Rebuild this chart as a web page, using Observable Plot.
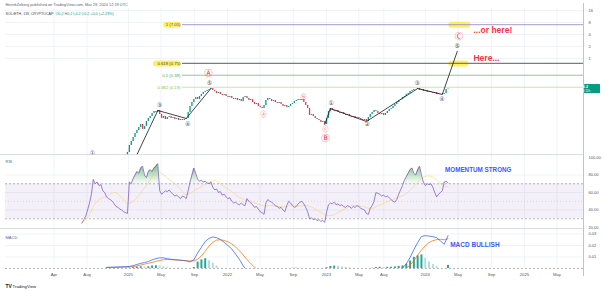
<!DOCTYPE html>
<html><head><meta charset="utf-8">
<script src="https://cdn.jsdelivr.net/npm/d3@7"></script>
<script src="https://cdn.jsdelivr.net/npm/@observablehq/plot@0.6"></script>
<style>
html,body{margin:0;padding:0;background:#fff;}
#chart{width:605px;height:291px;position:relative;overflow:hidden;background:#fff;}
#chart svg{display:block;}
</style></head><body><div id="chart"></div>
<script>
// ---------------- DATA ----------------
const candleStart = "2020-12-28";   // weekly candles
const firstOpen = 0.0028;
const closes = [
0.0044,0.0066,0.0083,0.0104,0.0131,0.0156,0.0186,0.0221,0.0166,0.0197,
0.0263,0.0313,0.0351,0.0417,0.0468,0.0442,0.0496,0.0394,0.0313,0.0351,
0.0295,0.0331,0.0351,0.0313,0.0331,0.0295,0.0313,0.0278,0.0295,0.0278,
0.0295,0.0313,0.0442,0.0625,0.0787,0.0937,0.1051,0.0937,0.1114,0.1250,
0.1403,0.1487,0.1575,0.1669,0.1768,0.1575,0.1487,0.1324,0.1403,0.1250,
0.1180,0.1250,0.1114,0.1051,0.1114,0.0992,0.0937,0.0992,0.0884,0.0937,
0.0834,0.1051,0.1114,0.0992,0.0884,0.0937,0.0787,0.0701,0.0743,0.0625,
0.0590,0.0557,0.0662,0.0884,0.0992,0.0937,0.0834,0.0884,0.0787,0.0743,
0.0787,0.0701,0.0625,0.0662,0.0590,0.0625,0.0701,0.0743,0.0834,0.0884,
0.0937,0.0884,0.0937,0.0787,0.0662,0.0557,0.0372,0.0394,0.0351,0.0313,
0.0295,0.0278,0.0248,0.0263,0.0221,0.0313,0.0468,0.0557,0.0496,0.0468,
0.0496,0.0442,0.0417,0.0442,0.0394,0.0372,0.0394,0.0351,0.0331,0.0351,
0.0313,0.0331,0.0313,0.0295,0.0278,0.0295,0.0263,0.0331,0.0394,0.0442,
0.0496,0.0468,0.0417,0.0394,0.0417,0.0372,0.0417,0.0468,0.0526,0.0557,
0.0625,0.0701,0.0787,0.0884,0.0937,0.1051,0.1114,0.1250,0.1324,0.1487,
0.1575,0.1669,0.1669,0.1768,0.1575,0.1669,0.1487,0.1575,0.1403,0.1487,
0.1403,0.1324,0.1403,0.1250,0.1324,0.1324,0.1250,0.1324,0.1669,0.1707];

const rsiStart = "2020-07-13";      // weekly RSI
const rsiValues = [
25,29,33,40,48,58,75,70,72,68, 69,62,60,55,53,52,50,47,44,43,
41,40,38,37,36,72,70,76,80,84, 82,88,90,80,77,84,86,84,88,90,
93,62,58,60,62,61,63,60,58,56, 57,55,53,56,55,53,62,72,80,88,
82,75,73,74,72,73,71,70,72,66, 63,64,60,61,57,58,55,53,54,50,
48,49,47,46,48,46,45,53,50,48, 46,43,44,41,38,37,35,48,52,50,
49,47,45,44,42,43,40,38,45,50, 48,45,43,44,47,49,50,47,43,38,
30,31,29,30,28,29,27,28,26,38, 46,48,47,49,46,47,45,46,44,43,
45,44,42,44,43,45,44,42,41,40, 36,35,42,45,50,60,59,58,56,57,
55,56,54,52,50,49,52,58,63,68, 74,78,82,86,88,82,80,86,90,80,
72,68,70,69,70,66,60,55,58,60, 62,72,73,71];

const macdStart = "2020-10-12";     // bi-weekly MACD
const macdValues = [
0.0010,0.0011,0.0012,0.0013,0.0015,0.0016,0.0018,0.0025,0.0035,0.0045,
0.0052,0.0060,0.0075,0.0086,0.0093,0.0092,0.0085,0.0080,0.0077,0.0074,
0.0071,0.0066,0.0058,0.0075,0.0135,0.0185,0.0235,0.0262,0.0274,0.0268,
0.0252,0.0228,0.0200,0.0170,0.0125,0.0080,0.0025,-0.0020,-0.0050,-0.0070,
-0.0085,-0.0095,-0.0100,-0.0098,-0.0090,-0.0088,-0.0092,-0.0095,-0.0093,-0.0090,
-0.0088,-0.0087,-0.0090,-0.0100,-0.0112,-0.0120,-0.0122,-0.0118,-0.0108,-0.0092,
-0.0080,-0.0074,-0.0070,-0.0068,-0.0067,-0.0068,-0.0070,-0.0072,-0.0074,-0.0078,
-0.0070,-0.0060,-0.0052,-0.0048,-0.0042,-0.0035,-0.0025,-0.0012,0.0005,0.0040,
0.0095,0.0165,0.0225,0.0278,0.0286,0.0282,0.0277,0.0268,0.0240,0.0210,0.0285];
const signalValues = [
0.0008,0.0009,0.0010,0.0011,0.0012,0.0013,0.0014,0.0017,0.0022,0.0030,
0.0038,0.0045,0.0053,0.0062,0.0070,0.0076,0.0078,0.0077,0.0075,0.0072,
0.0070,0.0068,0.0065,0.0066,0.0080,0.0110,0.0150,0.0195,0.0228,0.0247,
0.0250,0.0244,0.0232,0.0213,0.0188,0.0155,0.0118,0.0078,0.0042,0.0012,
-0.0015,-0.0040,-0.0060,-0.0075,-0.0083,-0.0087,-0.0089,-0.0091,-0.0092,-0.0092,
-0.0091,-0.0089,-0.0089,-0.0092,-0.0098,-0.0105,-0.0111,-0.0115,-0.0115,-0.0110,
-0.0101,-0.0092,-0.0084,-0.0077,-0.0072,-0.0070,-0.0069,-0.0070,-0.0071,-0.0073,
-0.0073,-0.0069,-0.0063,-0.0058,-0.0052,-0.0046,-0.0039,-0.0030,-0.0018,0.0002,
0.0030,0.0068,0.0115,0.0160,0.0198,0.0225,0.0242,0.0251,0.0254,0.0250,0.0258];

const fibLevels = [1, 0.618, 0.5, 0.382];
const fibPrices = [7.05, 0.75, 0.38, 0.19];
const fibLabelDate = "2021-07-12";
const fibStartDate = "2021-07-19";

const timeTickDates = ["2020-04-01","2020-08-01","2021-01-01","2021-05-01","2021-09-01","2022-01-01","2022-05-01","2022-09-01","2023-01-01","2023-05-01","2023-08-01","2024-01-01","2024-05-01","2024-09-01","2025-01-01","2025-05-01"];
const timeTickLabels = ["Apr","Aug","2021","May","Sep","2022","May","Sep","2023","May","Aug","2024","May","Sep","2025","May"];
const priceTicks = [16, 8, 4, 2, 1];
const rsiTicks = [100, 80, 60, 40, 20];
const macdTicks = [0.03, 0.02, 0.01];

const wave1Dates = ["2021-01-19","2021-04-19","2021-08-02","2021-11-01"];
const wave1Values = [0.0025, 0.0496, 0.0313, 0.1768];
const wave2Dates = ["2022-12-26","2023-01-16","2023-05-29","2023-12-04","2024-03-04","2024-04-28"];
const wave2Values = [0.0221, 0.0557, 0.0263, 0.1768, 0.1250, 1.5];

const labelDates = ["2020-08-21","2021-04-25","2021-08-07","2021-10-27","2021-10-23","2022-05-14","2022-10-09","2022-12-29","2022-12-29","2023-01-19","2023-06-01","2023-12-02","2024-03-03","2024-04-28","2024-05-05"];
const labelValues = [0.00412,0.0662,0.0221,0.236,0.42,0.0394,0.1051,0.0166,0.0098,0.0743,0.0221,0.236,0.0937,2.0,3.56];
const labelTexts = ["①","③","④","⑤","Ⓐ","ⓐ","ⓑ","ⓒ","Ⓑ","①","②","③","④","⑤","Ⓒ"];

const noteTexts = ["Here...", "...or here!"];
const noteDates = ["2024-06-27","2024-06-27"];
const noteValues = [1.0, 5.04];
const highlightValues = [7.05, 0.75, 7.05, 0.75];
const highlightStarts = ["2021-05-22","2021-04-14","2024-04-08","2024-04-08"];
const highlightEnds = ["2021-07-03","2021-07-03","2024-06-06","2024-05-30"];

// ---------------- BUILD ----------------
const D = s => new Date(s + "T00:00:00Z");
const addDays = (s, n) => new Date(D(s).getTime() + n * 864e5);
const xDomain = [D("2019-10-05"), D("2025-08-07")];
const X = {type: "utc", domain: xDomain, axis: null};
const FONT = "'Liberation Sans', Arial, sans-serif";
const SYM = "'DejaVu Sans', 'Noto Sans CJK SC', sans-serif";
const UP = "#089981", DOWN = "#f23645", RED = "#f23645", DARK = "#434651";
const GRID = "#eef0f4", AXIS_TXT = "#50535e";
const ticksX = timeTickDates.map(D);

const candles = closes.map((c, i) => ({date: addDays(candleStart, 7 * i), open: i ? closes[i - 1] : firstOpen, close: c}));
const rsi = rsiValues.map((v, j) => ({date: addDays(rsiStart, 7 * j), v}));
const macd = macdValues.map((v, n) => ({date: addDays(macdStart, 14 * n), macd: v, signal: signalValues[n], hist: v - signalValues[n]}));
macd.forEach((d, n) => {
  const prev = n ? macd[n - 1].hist : 0;
  d.col = d.hist >= 0 ? (d.hist >= prev ? "#26a69a" : "#b2dfdb") : (d.hist <= prev ? "#ff5252" : "#ffcdd2");
});
const wave1 = wave1Dates.map((d, i) => ({date: D(d), v: wave1Values[i]}));
const wave2 = wave2Dates.map((d, i) => ({date: D(d), v: wave2Values[i]}));
const labels = labelDates.map((d, i) => {
  const t = labelTexts[i], c = t.codePointAt(0);
  return {date: D(d), v: labelValues[i], t, kind: c < 0x24B6 ? "num" : (c < 0x24D0 ? "big" : "small")};
});
const fibs = fibPrices.map((p, i) => ({p, lvl: fibLevels[i], label: `${fibLevels[i]} (${p})`}));
const fibStroke = ["#9f8ccc", "#787b86", "#81c784", "#c8df9e"];
const fibWidth = [0.9, 1.3, 0.9, 0.9];
const fibText = ["#5e4a8f", "#434651", "#4caf50", "#8bc34a"];
const highlights = highlightValues.map((v, i) => ({v, x1: D(highlightStarts[i]), x2: D(highlightEnds[i])}));
const notes = noteTexts.map((t, i) => ({t, date: D(noteDates[i]), v: noteValues[i]}));
const timeTicks = ticksX.map((d, i) => ({d, t: timeTickLabels[i]}));

function chrome({top = 0, bottom = null, sep = false}) {
  return (index, scales, values, dims) => {
    const g = d3.create("svg:g");
    const xr = dims.width - dims.marginRight + 0.5;
    g.append("line").attr("x1", xr).attr("x2", xr).attr("y1", top).attr("y2", bottom ?? dims.height)
      .attr("stroke", "#b2b5be").attr("stroke-width", 0.8);
    if (sep) g.append("line").attr("x1", 0).attr("x2", xr).attr("y1", dims.height - 0.5).attr("y2", dims.height - 0.5)
      .attr("stroke", "#d1d4dc").attr("stroke-width", 0.8);
    return g.node();
  };
}

const chart = document.getElementById("chart");

// ---------- PRICE PANE ----------
const last = closes[closes.length - 1];
const pricePlot = Plot.plot({
  width: 605, height: 155, marginTop: 8, marginBottom: 0, marginLeft: 5, marginRight: 22,
  style: {background: "transparent", fontFamily: FONT, overflow: "visible"},
  x: X,
  y: {type: "log", domain: [0.00368, 17.96], range: [155, 8], axis: null},
  color: {type: "identity"},
  marks: [
    Plot.ruleX(ticksX, {stroke: GRID, strokeWidth: 0.8}),
    Plot.ruleY(priceTicks, {stroke: GRID, strokeWidth: 0.8}),
    Plot.ruleY(highlights, {y: "v", x1: "x1", x2: "x2", stroke: "#ffeb3b", strokeWidth: 6, strokeLinecap: "round", strokeOpacity: 0.8}),
    ...fibs.map((f, i) => Plot.ruleY([f], {y: "p", x1: () => D(fibStartDate), x2: () => xDomain[1], stroke: fibStroke[i], strokeWidth: fibWidth[i]})),
    ...fibs.map((f, i) => Plot.text([f], {y: "p", x: () => D(fibLabelDate), text: "label", textAnchor: "end", fontSize: 4.3, fill: fibText[i]})),
    Plot.ruleX(candles, {x: "date", y1: "open", y2: "close", stroke: d => d.close >= d.open ? UP : DOWN, strokeWidth: 1.3, clip: true}),
    Plot.line(wave1, {x: "date", y: "v", stroke: "#131722", strokeWidth: 0.8, clip: true}),
    Plot.line(wave2, {x: "date", y: "v", stroke: "#131722", strokeWidth: 0.8, clip: true}),
    Plot.text(labels, {filter: d => d.kind === "num", x: "date", y: "v", text: "t", fill: DARK, fontSize: 6, fontFamily: SYM}),
    Plot.text(labels, {filter: d => d.kind === "small", x: "date", y: "v", text: "t", fill: RED, fontSize: 6, fontFamily: SYM}),
    Plot.text(labels, {filter: d => d.kind === "big", x: "date", y: "v", text: "t", fill: RED, fontSize: 8.5, fontFamily: SYM}),
    Plot.text(notes, {x: "date", y: "v", text: "t", textAnchor: "start", fill: RED, fontSize: 8.5, fontWeight: "bold"}),
    Plot.text(priceTicks, {y: d => d, frameAnchor: "right", dx: 5, textAnchor: "start", text: d => String(d), fontSize: 4, fill: AXIS_TXT}),
    Plot.text(["HenrikZeberg published on TradingView.com, Mar 29, 2024 12:19 UTC"], {frameAnchor: "top-left", dy: -4, lineAnchor: "middle", textAnchor: "start", fontSize: 3.9, fill: "#5d606b"}),
    Plot.text(["SOL/ETH, 1W, CRYPTOCAP"], {frameAnchor: "top-left", dy: 5, lineAnchor: "middle", textAnchor: "start", fontSize: 3.7, fill: "#434651"}),
    Plot.text(["O0.2 H0.2 L0.2 C0.2 +0.0 (+2.29%)"], {frameAnchor: "top-left", dx: 50, dy: 5, lineAnchor: "middle", textAnchor: "start", fontSize: 3.7, fill: UP}),
    chrome({top: 3, sep: true}),
    (index, scales, values, dims) => {
      const y = scales.y(last);
      const x0 = dims.width - dims.marginRight + 1;
      const g = d3.create("svg:g");
      g.append("rect").attr("x", x0).attr("y", y - 4.5).attr("width", 16).attr("height", 9).attr("fill", UP).attr("rx", 0.6);
      g.append("text").attr("x", x0 + 1.5).attr("y", y - 0.8).attr("fill", "#fff").attr("font-size", 3.8).attr("font-weight", "bold").attr("font-family", FONT).text(d3.format(".1f")(last));
      g.append("text").attr("x", x0 + 1.5).attr("y", y + 3.3).attr("fill", "#fff").attr("font-size", 3.2).attr("font-family", FONT).text("3d 11h");
      return g.node();
    }
  ]
});

// ---------- RSI PANE ----------
const rsiPlot = Plot.plot({
  width: 605, height: 74, marginTop: 0, marginBottom: 0, marginLeft: 5, marginRight: 22,
  style: {background: "transparent", fontFamily: FONT, overflow: "visible"},
  x: X,
  y: {domain: [20, 100], range: [72, 2], axis: null},
  marks: [
    Plot.ruleX(ticksX, {stroke: GRID, strokeWidth: 0.8}),
    Plot.ruleY([80, 60, 40], {stroke: GRID, strokeWidth: 0.8}),
    Plot.rect([0], {x1: () => xDomain[0], x2: () => xDomain[1], y1: 30, y2: 70, fill: "#7e57c2", fillOpacity: 0.09}),
    Plot.ruleY([70, 30], {stroke: "#9598a1", strokeWidth: 0.7, strokeDasharray: "2,2"}),
    Plot.ruleY([50], {stroke: "#b2b5be", strokeWidth: 0.6, strokeDasharray: "1,2", strokeOpacity: 0.7}),
    (index, scales) => {
      const defs = d3.create("svg:defs");
      const gr = defs.append("linearGradient").attr("id", "rsiGrad").attr("gradientUnits", "userSpaceOnUse")
        .attr("x1", 0).attr("x2", 0).attr("y1", scales.y(95)).attr("y2", scales.y(70));
      gr.append("stop").attr("offset", 0).attr("stop-color", "#43a047").attr("stop-opacity", 0.85);
      gr.append("stop").attr("offset", 1).attr("stop-color", "#66bb6a").attr("stop-opacity", 0.05);
      return defs.node();
    },
    Plot.areaY(rsi, {x: "date", y1: 70, y2: d => Math.max(70, d.v), fill: "url(#rsiGrad)"}),
    Plot.lineY(rsi, Plot.windowY({k: 14, anchor: "end"}, {x: "date", y: "v", stroke: "#f3d36b", strokeWidth: 0.8, strokeOpacity: 0.75})),
    Plot.lineY(rsi, {x: "date", y: "v", stroke: "#7e57c2", strokeWidth: 0.75}),
    Plot.text(rsiTicks, {y: d => d, frameAnchor: "right", dx: 5, textAnchor: "start", text: d => d3.format(".2f")(d), fontSize: 4, fill: AXIS_TXT}),
    Plot.text(["RSI"], {frameAnchor: "top-left", dy: 6, lineAnchor: "middle", textAnchor: "start", fontSize: 4, fill: "#5d606b"}),
    Plot.text(["MOMENTUM STRONG"], {x: () => D("2024-03-14"), y: () => 86.3, textAnchor: "start", fontSize: 6.3, fontWeight: "bold", fill: "#3d5afe"}),
    chrome({sep: true})
  ]
});

// ---------- MACD PANE ----------
const macdPlot = Plot.plot({
  width: 605, height: 62, marginTop: 0, marginBottom: 23, marginLeft: 5, marginRight: 22,
  style: {background: "transparent", fontFamily: FONT, overflow: "visible"},
  x: X,
  y: {domain: [0, 0.03], range: [39, 4.5], axis: null},
  color: {type: "identity"},
  marks: [
    Plot.ruleX(ticksX, {stroke: GRID, strokeWidth: 0.8}),
    Plot.ruleY(macdTicks, {stroke: GRID, strokeWidth: 0.8}),
    Plot.ruleY([0], {stroke: "#9598a1", strokeWidth: 0.7, strokeDasharray: "2,2"}),
    Plot.ruleX(macd, {x: "date", y1: 0, y2: "hist", stroke: "col", strokeWidth: 2, clip: true}),
    Plot.line(macd, {x: "date", y: "signal", stroke: "#ff6d00", strokeWidth: 0.75, clip: true}),
    Plot.line(macd, {x: "date", y: "macd", stroke: "#2962ff", strokeWidth: 0.75, clip: true}),
    Plot.text(macdTicks, {y: d => d, frameAnchor: "right", dx: 5, textAnchor: "start", text: d => d3.format(".2f")(d), fontSize: 4, fill: AXIS_TXT}),
    Plot.text(["MACD"], {frameAnchor: "top-left", dy: 8, lineAnchor: "middle", textAnchor: "start", fontSize: 4, fill: "#5d606b"}),
    Plot.text(["MACD BULLISH"], {x: () => D("2024-04-02"), y: () => 0.0209, textAnchor: "start", fontSize: 6.5, fontWeight: "bold", fill: "#3d5afe"}),
    Plot.text(timeTicks, {x: "d", text: "t", frameAnchor: "bottom", dy: 6, lineAnchor: "middle", fontSize: 4.2, fill: AXIS_TXT}),
    Plot.text(["TV"], {frameAnchor: "bottom-left", dy: 18, lineAnchor: "middle", textAnchor: "start", fontSize: 5, fontWeight: "bold", fill: "#131722"}),
    Plot.text(["TradingView"], {frameAnchor: "bottom-left", dx: 7, dy: 18, lineAnchor: "middle", textAnchor: "start", fontSize: 4.3, fill: "#131722"}),
    chrome({bottom: 47})
  ]
});

chart.append(pricePlot, rsiPlot, macdPlot);
</script>
</body></html>
